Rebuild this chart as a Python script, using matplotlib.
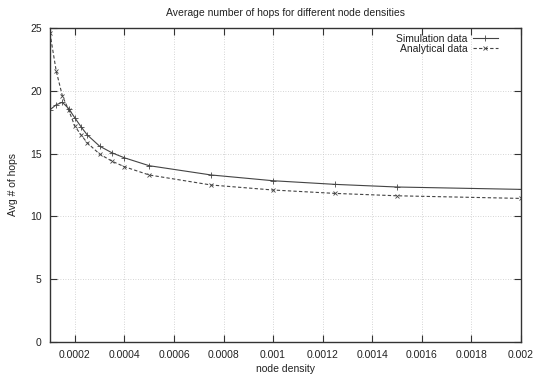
import matplotlib
matplotlib.use("Agg")
import matplotlib.pyplot as plt
from matplotlib.ticker import FixedLocator

plt.rcParams['font.family'] = ['Liberation Sans', 'DejaVu Sans']

density = [0.0001, 0.000125, 0.00015, 0.000175, 0.0002, 0.000225, 0.00025,
           0.0003, 0.00035, 0.0004, 0.0005, 0.00075, 0.001, 0.00125, 0.0015, 0.002]
simulation = [18.5, 18.9, 19.1, 18.6, 17.86, 17.15, 16.5,
              15.6, 15.07, 14.67, 14.04, 13.3, 12.84, 12.55, 12.34, 12.15]
analytical = [24.6, 21.6, 19.6, 18.5, 17.2, 16.5, 15.87,
              14.97, 14.4, 13.96, 13.3, 12.5, 12.1, 11.83, 11.64, 11.43]

xticks = [0.0002, 0.0004, 0.0006, 0.0008, 0.001, 0.0012, 0.0014, 0.0016, 0.0018, 0.002]
xticklabels = ['0.0002', '0.0004', '0.0006', '0.0008', '0.001', '0.0012',
               '0.0014', '0.0016', '0.0018', '0.002']
yticks = [0, 5, 10, 15, 20, 25]

FS = 7.5
fig = plt.figure(figsize=(5.34, 3.76), dpi=100)
ax = fig.add_axes([50/534, 1-341.7/376, (521-50)/534, (341.7-28.3)/376])

ax.plot(density, simulation, color='#444444', lw=0.8, ls='-', marker='+',
        ms=4, mew=0.6, label='Simulation data')
ax.plot(density, analytical, color='#444444', lw=0.8, ls=(0, (3, 2)), marker='x',
        ms=3.5, mew=0.6, label='Analytical data')

ax.set_xlim(0.0001, 0.002)
ax.set_ylim(0, 25)
ax.xaxis.set_major_locator(FixedLocator(xticks))
ax.set_xticklabels(xticklabels)
ax.set_yticks(yticks)
ax.tick_params(direction='in', top=True, right=True, length=5, width=0.8,
               labelsize=FS, color='#333333', labelcolor='#222222', pad=6)
ax.grid(True, color='#c8c8c8', ls=(0, (1, 2)), lw=0.6)
for s in ax.spines.values():
    s.set_color('#333333')
    s.set_linewidth(1.0)

ax.set_title('Average number of hops for different node densities', fontsize=FS,
             color='#222222', pad=9)
ax.set_xlabel('node density', fontsize=FS, color='#222222', labelpad=3)
ax.set_ylabel('Avg # of hops', fontsize=FS, color='#222222', labelpad=9)

leg = ax.legend(loc='upper right', frameon=False, markerfirst=False, fontsize=FS,
                handlelength=2.4, handletextpad=0.5, labelspacing=0.05,
                borderaxespad=0.1, bbox_to_anchor=(1 - 18/471, 1))
for t in leg.get_texts():
    t.set_ha('right')
    t.set_color('#222222')

fig.savefig('out.png', dpi=100)
